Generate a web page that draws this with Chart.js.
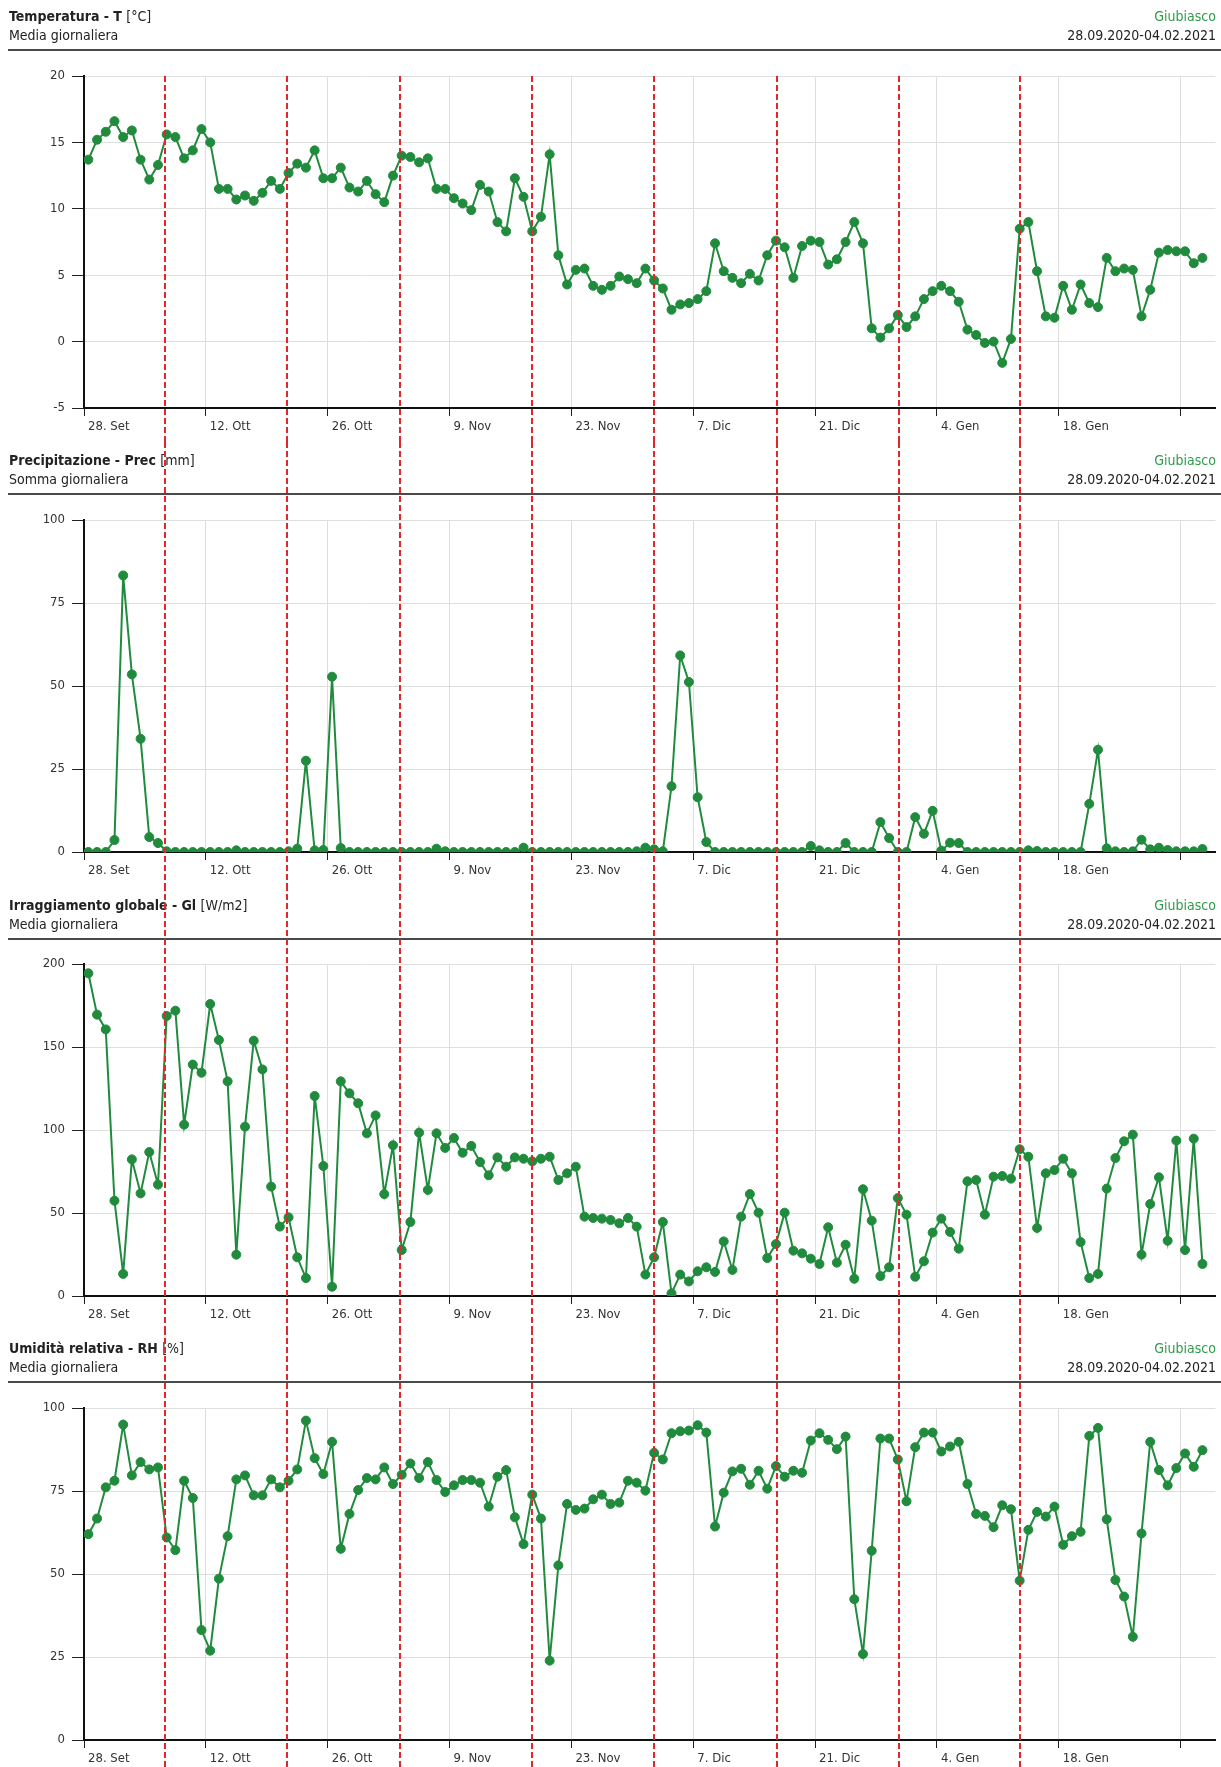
<!DOCTYPE html>
<html>
<head>
<meta charset="utf-8">
<script src="https://cdn.jsdelivr.net/npm/chart.js@4.4.1/dist/chart.umd.min.js"></script>
<style>
  html, body { margin: 0; padding: 0; background: #fff; }
  #wrap { width: 1221px; }
  canvas { display: block; }
</style>
</head>
<body>
<div id="wrap">
  <canvas id="c0" width="1221" height="442"></canvas>
  <canvas id="c1" width="1221" height="443"></canvas>
  <canvas id="c2" width="1221" height="444"></canvas>
  <canvas id="c3" width="1221" height="438"></canvas>
</div>
<script>
// daily values, 28.09.2020 onwards (one per day)
const temperature = [
  13.7, 15.2, 15.8, 16.6, 15.4, 15.9, 13.7, 12.2, 13.3, 15.6,
  15.4, 13.8, 14.4, 16.0, 15.0, 11.5, 11.5, 10.7, 11.0, 10.6,
  11.2, 12.1, 11.5, 12.7, 13.4, 13.1, 14.4, 12.3, 12.3, 13.1,
  11.6, 11.3, 12.1, 11.1, 10.5, 12.5, 14.0, 13.9, 13.5, 13.8,
  11.5, 11.5, 10.8, 10.4, 9.9, 11.8, 11.3, 9.0, 8.3, 12.3,
  10.9, 8.3, 9.4, 14.1, 6.5, 4.3, 5.4, 5.5, 4.2, 3.9,
  4.2, 4.9, 4.7, 4.4, 5.5, 4.6, 4.0, 2.4, 2.8, 2.9,
  3.2, 3.8, 7.4, 5.3, 4.8, 4.4, 5.1, 4.6, 6.5, 7.6,
  7.1, 4.8, 7.2, 7.6, 7.5, 5.8, 6.2, 7.5, 9.0, 7.4,
  1.0, 0.3, 1.0, 2.0, 1.1, 1.9, 3.2, 3.8, 4.2, 3.8,
  3.0, 0.9, 0.5, -0.1, 0.0, -1.6, 0.2, 8.5, 9.0, 5.3,
  1.9, 1.8, 4.2, 2.4, 4.3, 2.9, 2.6, 6.3, 5.3, 5.5,
  5.4, 1.9, 3.9, 6.7, 6.9, 6.8, 6.8, 5.9, 6.3
];
const precipitation = [
  0, 0, 0, 3.6, 83.3, 53.5, 34.1, 4.5, 2.7, 0.2,
  0, 0, 0, 0, 0, 0, 0, 0.5, 0, 0,
  0, 0, 0, 0.2, 1.0, 27.5, 0.5, 0.6, 52.8, 1.2,
  0, 0, 0, 0, 0, 0, 0, 0, 0, 0,
  1.0, 0.2, 0, 0, 0, 0, 0, 0, 0, 0,
  1.3, 0, 0, 0, 0, 0, 0, 0, 0, 0,
  0, 0, 0, 0.2, 1.3, 0.8, 0.2, 19.8, 59.2, 51.2,
  16.5, 3.0, 0, 0, 0, 0, 0, 0, 0, 0,
  0, 0, 0, 1.8, 0.5, 0, 0, 2.7, 0, 0,
  0, 9.0, 4.2, 0, 0, 10.5, 5.5, 12.4, 0.4, 2.8,
  2.7, 0, 0, 0, 0, 0, 0, 0, 0.5, 0.3,
  0, 0, 0, 0, 0, 14.5, 30.8, 1.1, 0.2, 0,
  0.2, 3.7, 0.8, 1.3, 0.6, 0.2, 0.2, 0.2, 0.9
];
const radiation = [
  194.4, 169.5, 160.6, 57.4, 13.3, 82.3, 61.8, 86.7, 67.1, 168.7,
  171.9, 103.2, 139.4, 134.5, 175.9, 154.2, 129.3, 24.9, 102.0, 153.8,
  136.5, 65.9, 41.8, 47.4, 23.3, 10.8, 120.5, 78.3, 5.6, 129.3,
  122.1, 116.1, 98.0, 108.8, 61.4, 90.8, 27.7, 44.6, 98.4, 63.9,
  98.0, 89.2, 95.2, 86.3, 90.4, 80.7, 72.7, 83.5, 77.9, 83.5,
  82.7, 81.1, 82.7, 83.9, 69.9, 73.9, 77.9, 47.8, 47.0, 46.6,
  45.8, 43.8, 47.0, 41.8, 12.9, 23.3, 44.6, 1.6, 12.9, 8.8,
  14.9, 17.3, 14.5, 32.9, 15.7, 47.8, 61.4, 50.2, 22.9, 31.3,
  50.2, 27.3, 25.7, 22.5, 19.3, 41.4, 20.1, 30.9, 10.4, 64.3,
  45.4, 12.0, 17.3, 59.0, 49.0, 11.6, 20.9, 38.2, 46.6, 38.6,
  28.5, 69.1, 69.9, 49.0, 71.9, 72.3, 70.7, 88.4, 83.9, 41.0,
  73.9, 75.9, 82.7, 73.9, 32.5, 10.8, 13.3, 64.7, 83.1, 93.2,
  97.2, 24.9, 55.4, 71.5, 33.3, 93.6, 27.7, 94.8, 19.3
];
const humidity = [
  62.0, 66.7, 76.1, 78.1, 95.0, 79.7, 83.7, 81.5, 82.1, 61.0,
  57.2, 78.1, 72.9, 33.1, 26.9, 48.6, 61.4, 78.5, 79.7, 73.7,
  73.7, 78.5, 76.1, 78.1, 81.5, 96.2, 84.9, 80.1, 89.8, 57.6,
  68.1, 75.3, 78.9, 78.5, 82.1, 77.1, 79.9, 83.3, 78.9, 83.7,
  78.3, 74.7, 76.7, 78.3, 78.3, 77.5, 70.3, 79.3, 81.3, 67.1,
  59.0, 73.9, 66.7, 23.9, 52.6, 71.1, 69.3, 69.7, 72.5, 73.9,
  71.1, 71.5, 78.1, 77.5, 75.1, 86.5, 84.5, 92.4, 93.0, 93.2,
  94.8, 92.6, 64.3, 74.5, 80.9, 81.7, 76.9, 81.1, 75.7, 82.5,
  79.3, 81.1, 80.5, 90.2, 92.4, 90.4, 87.6, 91.4, 42.4, 25.9,
  57.0, 90.8, 90.8, 84.5, 71.9, 88.2, 92.6, 92.6, 86.9, 88.4,
  89.8, 77.1, 68.1, 67.5, 64.1, 70.7, 69.5, 48.0, 63.3, 68.7,
  67.3, 70.3, 58.8, 61.4, 62.7, 91.6, 94.0, 66.5, 48.2, 43.2,
  31.1, 62.2, 89.8, 81.3, 76.7, 81.9, 86.3, 82.3, 87.3
];

// x axis: days since 28 Sep 2020
const tickDays = [0, 14, 28, 42, 56, 70, 84, 98, 112, 126];
const tickLabels = ['28. Set', '12. Ott', '26. Ott', '9. Nov', '23. Nov', '7. Dic', '21. Dic', '4. Gen', '18. Gen', ''];
const markerDays = [9.35, 23.35, 36.35, 51.5, 65.5, 79.6, 93.6, 107.5];

const titles = ['Temperatura - T', 'Precipitazione - Prec', 'Irraggiamento globale - Gl', 'Umidità relativa - RH'];
const units = ['[°C]', '[mm]', '[W/m2]', '[%]'];
const subtitles = ['Media giornaliera', 'Somma giornaliera', 'Media giornaliera', 'Media giornaliera'];
const station = 'Giubiasco';
const period = '28.09.2020-04.02.2021';
const yMin = [-5, 0, 0, 0];
const yMax = [20, 100, 200, 100];
const yStep = [5, 25, 50, 25];

const FONT = '"DejaVu Sans Condensed", "DejaVu Sans", sans-serif';
const GREEN = '#218b3d';

// canvas-local positions of each panel
const layouts = [
  { top: 76, bottom: 408, sep: 50, fromPlot: true },
  { top: 78, bottom: 410, sep: 52, fromPlot: false },
  { top: 79, bottom: 411, sep: 54, fromPlot: false },
  { top: 79, bottom: 411, sep: 53, fromPlot: false }
];
const series = [temperature, precipitation, radiation, humidity];

const headerPlugin = {
  id: 'header',
  afterDraw(chart, args, opts) {
    const ctx = chart.ctx;
    ctx.save();
    ctx.textBaseline = 'middle';
    ctx.textAlign = 'left';
    ctx.fillStyle = '#222';
    ctx.font = 'bold 14px ' + FONT;
    ctx.fillText(opts.title, 9, opts.sep - 33);
    const w = ctx.measureText(opts.title + ' ').width;
    ctx.font = '14px ' + FONT;
    ctx.fillText(opts.unit, 9 + w, opts.sep - 33);
    ctx.fillText(opts.subtitle, 9, opts.sep - 14);
    ctx.textAlign = 'right';
    ctx.fillText(period, 1216, opts.sep - 14);
    ctx.fillStyle = '#2e9b48';
    ctx.fillText(station, 1216, opts.sep - 33);
    ctx.fillStyle = '#4a4a4a';
    ctx.fillRect(8, opts.sep - 1, 1213, 2);
    ctx.restore();
  }
};

const markerPlugin = {
  id: 'markers',
  afterDraw(chart, args, opts) {
    const ctx = chart.ctx;
    const x = chart.scales.x;
    const y0 = opts.fromPlot ? chart.chartArea.top : 0;
    ctx.save();
    ctx.strokeStyle = '#e2262b';
    ctx.lineWidth = 2;
    ctx.setLineDash([6, 3]);
    markerDays.forEach(d => {
      const px = Math.round(x.getPixelForValue(d));
      ctx.beginPath();
      ctx.moveTo(px, y0);
      ctx.lineTo(px, chart.height);
      ctx.stroke();
    });
    ctx.restore();
  }
};

Chart.defaults.font.family = FONT;
Chart.defaults.animation = false;

series.forEach((values, p) => {
  const canvas = document.getElementById('c' + p);
  const L = layouts[p];
  const xAxisH = 27;
  const padBottom = canvas.height - L.bottom - xAxisH;

  new Chart(canvas, {
    type: 'line',
    data: {
      datasets: [{
        data: values.map((v, i) => ({ x: i + 0.5, y: v })),
        borderColor: GREEN,
        backgroundColor: GREEN,
        pointBackgroundColor: GREEN,
        pointBorderColor: GREEN,
        pointBorderWidth: 1,
        pointRadius: 4.5,
        borderWidth: 2,
        tension: 0
      }]
    },
    options: {
      responsive: false,
      events: [],
      layout: { padding: { top: L.top, bottom: padBottom, left: 0, right: 3 } },
      plugins: {
        legend: { display: false },
        tooltip: { enabled: false },
        header: { title: titles[p], unit: units[p], subtitle: subtitles[p], sep: L.sep },
        markers: { fromPlot: L.fromPlot }
      },
      scales: {
        x: {
          type: 'linear',
          min: 0,
          max: 130,
          afterBuildTicks: axis => { axis.ticks = tickDays.map(v => ({ value: v })); },
          afterFit: s => { s.height = xAxisH; },
          ticks: {
            autoSkip: false,
            maxRotation: 0,
            align: 'start',
            labelOffset: 4,
            padding: 3,
            color: '#333',
            font: { size: 13 },
            callback: v => tickLabels[tickDays.indexOf(v)]
          },
          grid: { color: '#dedede', tickColor: '#222', tickLength: 8, lineWidth: 1 },
          border: { color: '#111', width: 2 }
        },
        y: {
          min: yMin[p],
          max: yMax[p],
          afterFit: s => { s.width = 84; },
          ticks: { stepSize: yStep[p], color: '#333', font: { size: 13 }, padding: 7 },
          grid: { color: '#dedede', tickColor: '#222', tickLength: 12, lineWidth: 1 },
          border: { color: '#111', width: 2 }
        }
      }
    },
    plugins: [headerPlugin, markerPlugin]
  });
});
</script>
</body>
</html>
